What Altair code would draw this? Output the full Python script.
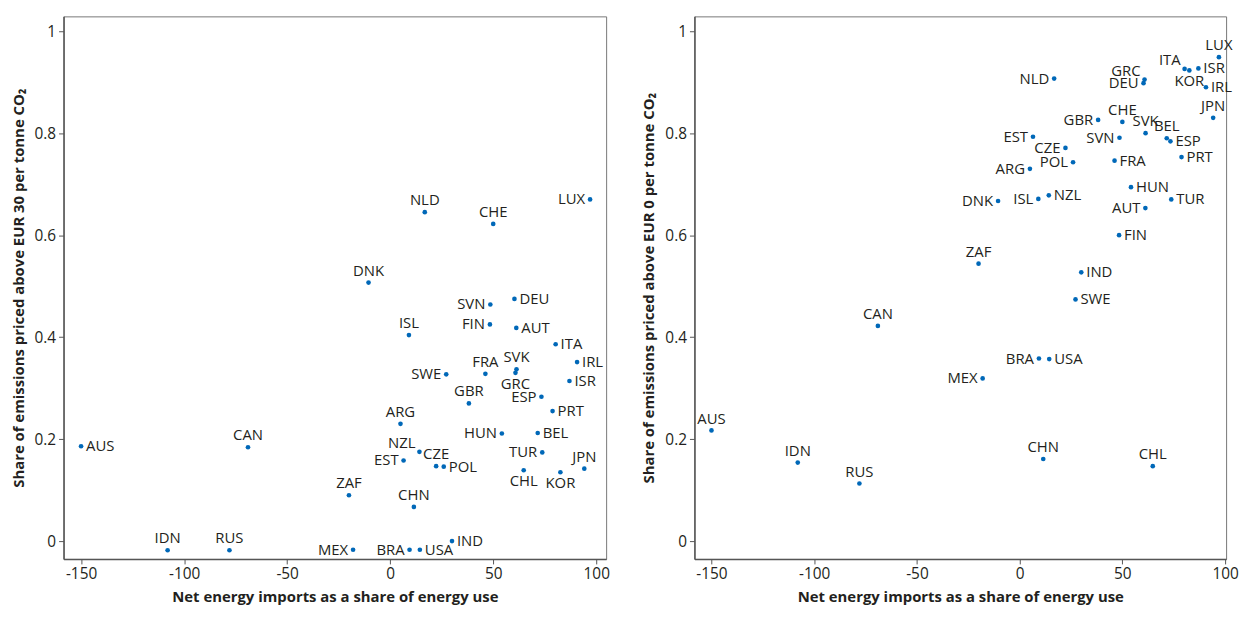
import altair as alt
import pandas as pd

countries = ["AUS", "CAN", "IDN", "RUS", "DNK", "ZAF", "CHN", "NZL", "EST", "CZE",
             "POL", "HUN", "MEX", "BRA", "USA", "IND", "ARG", "ISL", "NLD", "CHE",
             "LUX", "SWE", "SVN", "DEU", "FIN", "AUT", "ITA", "IRL", "FRA", "SVK",
             "GRC", "ISR", "GBR", "ESP", "PRT", "BEL", "TUR", "JPN", "CHL", "KOR"]

net_imports = [-150, -69, -108, -78, -10.5, -20, 11.5, 14.2, 6.5, 22.3,
               26, 54.2, -18, 9.4, 14.4, 30, 5, 9.1, 16.8, 50,
               97, 27.2, 48.6, 60.3, 48.4, 61.2, 80.3, 90.7, 46.2, 61.3,
               60.8, 87, 38.2, 73.4, 78.8, 71.6, 73.8, 94.2, 64.8, 82.6]

share_above_30 = [0.186, 0.184, -0.018, -0.018, 0.507, 0.090, 0.067, 0.175, 0.158, 0.147,
                  0.146, 0.211, -0.017, -0.017, -0.017, 0.0, 0.230, 0.404, 0.645, 0.622,
                  0.670, 0.327, 0.464, 0.475, 0.425, 0.418, 0.386, 0.351, 0.328, 0.337,
                  0.330, 0.314, 0.270, 0.283, 0.255, 0.212, 0.174, 0.142, 0.139, 0.135]

share_above_0 = [0.217, 0.422, 0.154, 0.113, 0.667, 0.544, 0.161, 0.678, 0.793, 0.771,
                 0.743, 0.694, 0.319, 0.358, 0.357, 0.527, 0.730, 0.671, 0.907, 0.822,
                 0.949, 0.474, 0.791, 0.898, 0.600, 0.653, 0.926, 0.890, 0.746, 0.800,
                 0.905, 0.927, 0.826, 0.784, 0.753, 0.790, 0.670, 0.830, 0.147, 0.923]

label_side_30 = {
    "AUS": "R", "CAN": "T", "IDN": "T", "RUS": "T", "DNK": "T", "ZAF": "T", "CHN": "T",
    "NZL": "LU", "EST": "L", "CZE": "T", "POL": "R", "HUN": "L", "MEX": "L", "BRA": "L",
    "USA": "R", "IND": "R", "ARG": "T", "ISL": "T", "NLD": "T", "CHE": "T", "LUX": "L",
    "SWE": "L", "SVN": "L", "DEU": "R", "FIN": "L", "AUT": "R", "ITA": "R", "IRL": "R",
    "FRA": "T", "SVK": "T", "GRC": "B", "ISR": "R", "GBR": "T", "ESP": "L", "PRT": "R",
    "BEL": "R", "TUR": "L", "JPN": "T", "CHL": "B", "KOR": "B"}

label_side_0 = {
    "AUS": "T", "CAN": "T", "IDN": "T", "RUS": "T", "DNK": "L", "ZAF": "T", "CHN": "T",
    "NZL": "R", "EST": "L", "CZE": "L", "POL": "L", "HUN": "R", "MEX": "L", "BRA": "L",
    "USA": "R", "IND": "R", "ARG": "L", "ISL": "L", "NLD": "L", "CHE": "T", "LUX": "T",
    "SWE": "R", "SVN": "L", "DEU": "L", "FIN": "R", "AUT": "L", "ITA": "LU", "IRL": "R",
    "FRA": "R", "SVK": "T", "GRC": "LU", "ISR": "R", "GBR": "L", "ESP": "R", "PRT": "R",
    "BEL": "T", "TUR": "R", "JPN": "T", "CHL": "T", "KOR": "B"}

x_ticks = [-150, -100, -50, 0, 50, 100]
y_ticks = [0, 0.2, 0.4, 0.6, 0.8, 1]

FONT = "Open Sans"
TEXT = "#231f20"
DOT = "#0068b8"

side_specs = {
    "R": dict(align="left", baseline="middle", dx=5, dy=0),
    "L": dict(align="right", baseline="middle", dx=-5, dy=0),
    "T": dict(align="center", baseline="bottom", dx=0, dy=-4),
    "B": dict(align="center", baseline="top", dx=0, dy=4),
    "LU": dict(align="right", baseline="middle", dx=-4, dy=-9),
}


def panel(values, sides, ytitle, xdomain, width):
    df = pd.DataFrame({
        "country": countries,
        "x": net_imports,
        "y": values,
        "side": [sides[c] for c in countries],
    })
    base = alt.Chart(df)
    xenc = alt.X("x:Q",
                 scale=alt.Scale(domain=xdomain, nice=False, zero=False),
                 axis=alt.Axis(values=x_ticks,
                               title="Net energy imports as a share of energy use",
                               titlePadding=7, labelPadding=3,
                               labelExpr="datum.value < 0 ? '-' + abs(datum.value) : '' + datum.value"))
    yenc = alt.Y("y:Q",
                 scale=alt.Scale(domain=[-0.035, 1.029], nice=False, zero=False),
                 axis=alt.Axis(values=y_ticks, title=ytitle, format="~g",
                               titlePadding=8, labelPadding=3))
    layers = [base.mark_circle(size=22, color=DOT, opacity=1).encode(x=xenc, y=yenc)]
    for key, spec in side_specs.items():
        layers.append(
            base.transform_filter(alt.datum.side == key)
            .mark_text(fontSize=15, font=FONT, color=TEXT, **spec)
            .encode(x="x:Q", y="y:Q", text="country:N")
        )
    return alt.layer(*layers).properties(width=width, height=547)


left = panel(share_above_30, label_side_30,
             "Share of emissions priced above EUR 30 per tonne CO₂", [-158.5, 104.8], 547)
right = panel(share_above_0, label_side_0,
              "Share of emissions priced above EUR 0 per tonne CO₂", [-158.3, 100.5], 536)

chart = (
    alt.hconcat(left, right, spacing=31)
    .properties(padding={"left": 2, "top": 5, "right": 0, "bottom": 0})
    .configure_view(stroke="#777777", strokeWidth=1)
    .configure_axis(
        grid=False,
        domainColor="#555555",
        domainWidth=1.5,
        tickColor="#555555",
        tickSize=5,
        labelFont=FONT,
        labelFontSize=15.5,
        labelColor=TEXT,
        titleFont=FONT,
        titleFontSize=15,
        titleFontWeight="bold",
        titleColor=TEXT,
    )
)

chart.save("out.html", embed_options={"renderer": "svg", "actions": False})
